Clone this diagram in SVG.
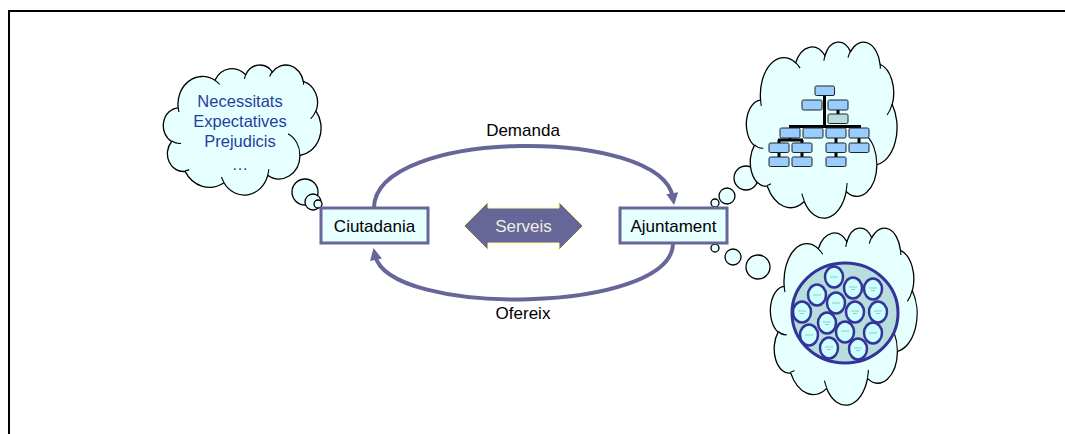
<svg xmlns="http://www.w3.org/2000/svg" xmlns:xlink="http://www.w3.org/1999/xlink" width="1065" height="434" viewBox="0 0 1065 434">
  <style>
    text { font-family: "Liberation Sans", Arial, sans-serif; }
    .cloud { fill: #E6FFFF; stroke: #000; stroke-width: 1.3; vector-effect: non-scaling-stroke; }
    .crease { fill: none; stroke: #000; stroke-width: 1.1; vector-effect: non-scaling-stroke; }
    .bubble { fill: #E6FFFF; stroke: #000; stroke-width: 1.3; }
    .box { fill: #E6FFFF; stroke: #666699; stroke-width: 3; }
    .label { font-size: 17px; fill: #000; text-anchor: middle; }
    .needs { font-size: 16.5px; fill: #1F3F9F; text-anchor: middle; }
    .flow { fill: none; stroke: #666699; stroke-width: 4; }
    .org { fill: #99CCFF; stroke: #222; stroke-width: 1; }
    .org2 { fill: #B8DDDD; stroke: #222; stroke-width: 1; }
    .orgline { stroke: #000; stroke-width: 3; fill: none; }
    .cell { fill: #CCFFFF; stroke: #333399; stroke-width: 2.5; }
    .scrib { stroke: #8899AA; stroke-width: 0.6; }
  </style>
  <defs>
    <!-- cloud outline in a 100x100 box, with its inner crease strokes -->
    <g id="cloudShape">
      <path class="cloud" d="M9.03 33.26 A15.63 21.27 0 0 1 32.42 12.05 A12.35 16.82 0 0 1 51.99 7.95 A10.10 13.76 0 0 1 69.06 5.75 A11.24 15.27 0 0 1 88.71 12.92 A12.35 16.84 0 0 1 96.81 35.80 A15.68 21.34 0 0 1 86.59 69.92 A13.39 18.21 0 0 1 66.11 85.23 A15.63 21.33 0 0 1 38.15 90.90 A17.87 24.41 0 0 1 13.44 82.12 A10.09 13.70 0 0 1 4.89 59.15 A10.06 13.76 0 0 1 9.03 33.26 Z"/>
      <path class="crease" d="M10.86 60.60 A10.06 13.76 0 0 1 5.00 58.75 M16.04 80.79 A10.09 13.70 0 0 1 13.47 81.67 M38.14 90.49 A15.63 21.33 0 0 1 36.60 86.46 M66.73 80.44 A15.63 21.33 0 0 1 66.11 84.86 M79.00 53.14 A13.39 18.21 0 0 1 86.53 69.65 M96.75 35.54 A12.35 16.84 0 0 1 93.40 41.74 M88.71 12.56 A11.24 15.27 0 0 1 88.89 15.48 M67.31 9.15 A11.24 15.27 0 0 1 69.03 5.42 M51.25 10.93 A10.10 13.76 0 0 1 52.08 7.71 M32.41 12.02 A15.63 21.27 0 0 1 35.41 15.14 M9.55 36.55 A15.63 21.27 0 0 1 9.03 33.27"/>
    </g>
    <marker id="head" viewBox="0 0 10 10" refX="4" refY="5" markerWidth="13" markerHeight="12" markerUnits="userSpaceOnUse" orient="auto">
      <path d="M0 0 L10 5 L0 10 Z" fill="#666699"/>
    </marker>
  </defs>

  <rect width="1065" height="434" fill="#fff"/>
  <!-- page frame -->
  <path d="M9 434 V11 H1065" fill="none" stroke="#000" stroke-width="2"/>

  <!-- citizens' thoughts -->
  <g id="cloud-citizens">
    <use xlink:href="#cloudShape" transform="translate(164 64.6) scale(1.57 1.30)"/>
    <circle class="bubble" cx="305" cy="192" r="13"/>
    <circle class="bubble" cx="313" cy="202" r="8"/>
    <circle class="bubble" cx="318" cy="204" r="4"/>
    <text class="needs" x="240" y="107">Necessitats</text>
    <text class="needs" x="240" y="127">Expectatives</text>
    <text class="needs" x="240" y="147">Prejudicis</text>
    <text class="needs" x="240" y="170">…</text>
  </g>

  <!-- organisation chart thought -->
  <g id="cloud-orgchart">
    <circle class="bubble" cx="746" cy="178" r="12"/>
    <use xlink:href="#cloudShape" transform="translate(747 41.5) scale(1.50 1.76)"/>
    <circle class="bubble" cx="727" cy="196" r="8"/>
    <circle class="bubble" cx="715" cy="203" r="4"/>
    <g id="orgchart">
      <path class="orgline" d="M824.5 95 V127 M789 126.5 H861 M838 110 V114 M778 140 H803 M779 140 V143 M802 140 V143 M836 138 V143 M859 138 V143 M779 152 V157 M802 152 V157 M836 152 V157 M790 138 V140"/>
      <rect class="org" x="815" y="86" width="19.5" height="9.5" rx="1.5"/>
      <rect class="org" x="802" y="100" width="20" height="10" rx="1.5"/>
      <rect class="org" x="828" y="100" width="20" height="10" rx="1.5"/>
      <rect class="org2" x="828" y="114" width="20" height="9.5" rx="1.5"/>
      <rect class="org" x="780" y="128" width="20" height="10" rx="1.5"/>
      <rect class="org" x="803" y="128" width="20" height="10" rx="1.5"/>
      <rect class="org" x="826" y="128" width="20" height="10" rx="1.5"/>
      <rect class="org" x="849" y="128" width="20" height="10" rx="1.5"/>
      <rect class="org" x="769" y="143" width="20" height="9.5" rx="1.5"/>
      <rect class="org" x="792" y="143" width="20" height="9.5" rx="1.5"/>
      <rect class="org" x="826" y="143" width="20" height="9.5" rx="1.5"/>
      <rect class="org" x="849" y="143" width="20" height="9.5" rx="1.5"/>
      <rect class="org" x="769" y="157" width="20" height="9.5" rx="1.5"/>
      <rect class="org" x="792" y="157" width="20" height="9.5" rx="1.5"/>
      <rect class="org" x="826" y="157" width="20" height="9.5" rx="1.5"/>
    </g>
  </g>

  <!-- network of people thought -->
  <g id="cloud-network">
    <circle class="bubble" cx="715" cy="248" r="4"/>
    <circle class="bubble" cx="733" cy="257" r="8"/>
    <circle class="bubble" cx="758" cy="267" r="12"/>
    <use xlink:href="#cloudShape" transform="translate(771 227.5) scale(1.46 1.77)"/>
    <ellipse cx="845" cy="313" rx="53" ry="50" fill="#B8DDDD" stroke="#333399" stroke-width="3"/>
    <g id="cells">
      <ellipse class="cell" cx="834" cy="277" rx="9" ry="10.5"/>
      <ellipse class="cell" cx="853" cy="288" rx="9" ry="10.5"/>
      <ellipse class="cell" cx="873" cy="289" rx="9" ry="10.5"/>
      <ellipse class="cell" cx="817" cy="295" rx="9" ry="10.5"/>
      <ellipse class="cell" cx="836" cy="303" rx="9" ry="10.5"/>
      <ellipse class="cell" cx="855" cy="312" rx="9" ry="10.5"/>
      <ellipse class="cell" cx="878" cy="312" rx="9" ry="10.5"/>
      <ellipse class="cell" cx="802" cy="312" rx="9" ry="10.5"/>
      <ellipse class="cell" cx="827" cy="323" rx="9" ry="10.5"/>
      <ellipse class="cell" cx="845" cy="332" rx="9" ry="10.5"/>
      <ellipse class="cell" cx="873" cy="333" rx="9" ry="10.5"/>
      <ellipse class="cell" cx="809" cy="335" rx="9" ry="10.5"/>
      <ellipse class="cell" cx="829" cy="348" rx="9" ry="10.5"/>
      <ellipse class="cell" cx="858" cy="349" rx="9" ry="10.5"/>
    </g>
    <path class="scrib" d="M830 277 h8 M849 287 h8 M851 289.5 h4 M869 288 h8 M871 290.5 h4 M813 295 h8 M832 303 h8 M851 311 h8 M853 313.5 h4 M874 311 h8 M876 313.5 h4 M798 311 h8 M800 313.5 h4 M823 322 h8 M825 324.5 h4 M841 331 h8 M869 333 h8 M805 335 h8 M825 347 h8 M827 349.5 h4 M854 348 h8 M856 350.5 h4"/>
  </g>

  <!-- exchange arrows -->
  <g id="connectors">
    <path class="flow" d="M374 208 C374 128 662 126 673 198" marker-end="url(#head)"/>
    <path class="flow" d="M673 243 C673 314 388 318 375 255" marker-end="url(#head)"/>
    <text class="label" x="523" y="136">Demanda</text>
    <text class="label" x="523" y="319">Ofereix</text>
  </g>

  <g id="node-ciutadania">
    <rect class="box" x="321" y="208" width="107" height="35"/>
    <text class="label" x="374.5" y="232">Ciutadania</text>
  </g>

  <g id="node-serveis">
    <polygon points="464,226 488,202 488,208 559,208 559,202 583,226 559,250 559,243 488,243 488,250" fill="#666699" stroke="#FFFF99" stroke-width="1"/>
    <text class="label" x="523.5" y="232" style="fill:#EEEEDD">Serveis</text>
  </g>

  <g id="node-ajuntament">
    <rect class="box" x="620" y="208" width="107" height="35"/>
    <text class="label" x="673.5" y="232">Ajuntament</text>
  </g>
</svg>
